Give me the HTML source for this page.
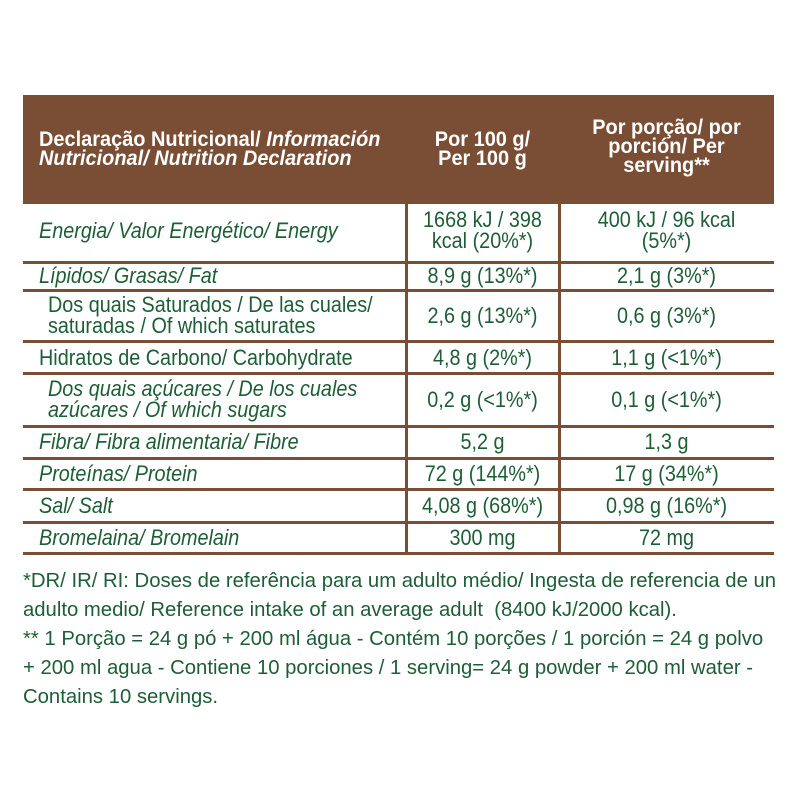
<!DOCTYPE html>
<html><head><meta charset="utf-8"><style>
body{margin:0;width:800px;height:800px;background:#fff;position:relative;overflow:hidden;font-family:"Liberation Sans",sans-serif;color:#1d5e37}
.hd{position:absolute;left:23px;top:95px;width:751px;height:107px;background:#7a4d35}
.h{position:absolute;height:3px;left:23px;width:751px;background:#7a4d35}
.v{position:absolute;width:3px;top:202px;height:353px;background:#7a4d35}
.t{position:absolute;font-size:22px;line-height:21px;white-space:nowrap;transform:scaleX(.9);transform-origin:left top}
.c{text-align:center;transform-origin:center top}
.w{color:#fff;font-weight:bold;font-size:21px;line-height:19px;transform:scaleX(.95)}
.n{position:absolute;left:23px;font-size:20.3px;line-height:29px;white-space:nowrap}
</style></head><body>
<div class="hd"></div>
<div class="t w" style="left:39px;top:130px">Declaração Nutricional/ <i>Información</i><br><i>Nutricional/ Nutrition Declaration</i></div>
<div class="t w c" style="left:406px;width:153px;top:130px">Por 100 g/<br>Per 100 g</div>
<div class="t w c" style="left:559px;width:215px;top:118px">Por porção/ por<br>porción/ Per<br>serving**</div>
<div class="h" style="top:201px"></div>
<div class="h" style="top:261px"></div>
<div class="h" style="top:289px"></div>
<div class="h" style="top:340px"></div>
<div class="h" style="top:372px"></div>
<div class="h" style="top:425px"></div>
<div class="h" style="top:457px"></div>
<div class="h" style="top:488px"></div>
<div class="h" style="top:521px"></div>
<div class="h" style="top:552px"></div>
<div class="v" style="left:405px"></div>
<div class="v" style="left:558px"></div>

<div class="t" style="left:39px;top:220px"><i>Energia/ Valor Energético/ Energy</i></div>
<div class="t c" style="left:406px;width:153px;top:209px">1668 kJ / 398<br>kcal (20%*)</div>
<div class="t c" style="left:559px;width:215px;top:209px">400 kJ / 96 kcal<br>(5%*)</div>

<div class="t" style="left:39px;top:265px"><i>Lípidos/ Grasas/ Fat</i></div>
<div class="t c" style="left:406px;width:153px;top:265px">8,9 g (13%*)</div>
<div class="t c" style="left:559px;width:215px;top:265px">2,1 g (3%*)</div>

<div class="t" style="left:48px;top:294px">Dos quais Saturados / De las cuales/<br>saturadas / Of which saturates</div>
<div class="t c" style="left:406px;width:153px;top:305px">2,6 g (13%*)</div>
<div class="t c" style="left:559px;width:215px;top:305px">0,6 g (3%*)</div>

<div class="t" style="left:39px;top:347px">Hidratos de Carbono/ Carbohydrate</div>
<div class="t c" style="left:406px;width:153px;top:347px">4,8 g (2%*)</div>
<div class="t c" style="left:559px;width:215px;top:347px">1,1 g (&lt;1%*)</div>

<div class="t" style="left:48px;top:378px"><i>Dos quais açúcares / De los cuales<br>azúcares / Of which sugars</i></div>
<div class="t c" style="left:406px;width:153px;top:389px">0,2 g (&lt;1%*)</div>
<div class="t c" style="left:559px;width:215px;top:389px">0,1 g (&lt;1%*)</div>

<div class="t" style="left:39px;top:431px"><i>Fibra/ Fibra alimentaria/ Fibre</i></div>
<div class="t c" style="left:406px;width:153px;top:431px">5,2 g</div>
<div class="t c" style="left:559px;width:215px;top:431px">1,3 g</div>

<div class="t" style="left:39px;top:463px"><i>Proteínas/ Protein</i></div>
<div class="t c" style="left:406px;width:153px;top:463px">72 g (144%*)</div>
<div class="t c" style="left:559px;width:215px;top:463px">17 g (34%*)</div>

<div class="t" style="left:39px;top:495px"><i>Sal/ Salt</i></div>
<div class="t c" style="left:406px;width:153px;top:495px">4,08 g (68%*)</div>
<div class="t c" style="left:559px;width:215px;top:495px">0,98 g (16%*)</div>

<div class="t" style="left:39px;top:527px"><i>Bromelaina/ Bromelain</i></div>
<div class="t c" style="left:406px;width:153px;top:527px">300 mg</div>
<div class="t c" style="left:559px;width:215px;top:527px">72 mg</div>

<div class="n" style="top:567px">*DR/ IR/ RI: Doses de referência para um adulto médio/ Ingesta de referencia de un<br>adulto medio/ Reference intake of an average adult&nbsp; (8400 kJ/2000 kcal).<br>** 1 Porção = 24 g pó + 200 ml água - Contém 10 porções / 1 porción = 24 g polvo<br>+ 200 ml agua - Contiene 10 porciones / 1 serving= 24 g powder + 200 ml water -<br>Contains 10 servings.</div>
</body></html>
